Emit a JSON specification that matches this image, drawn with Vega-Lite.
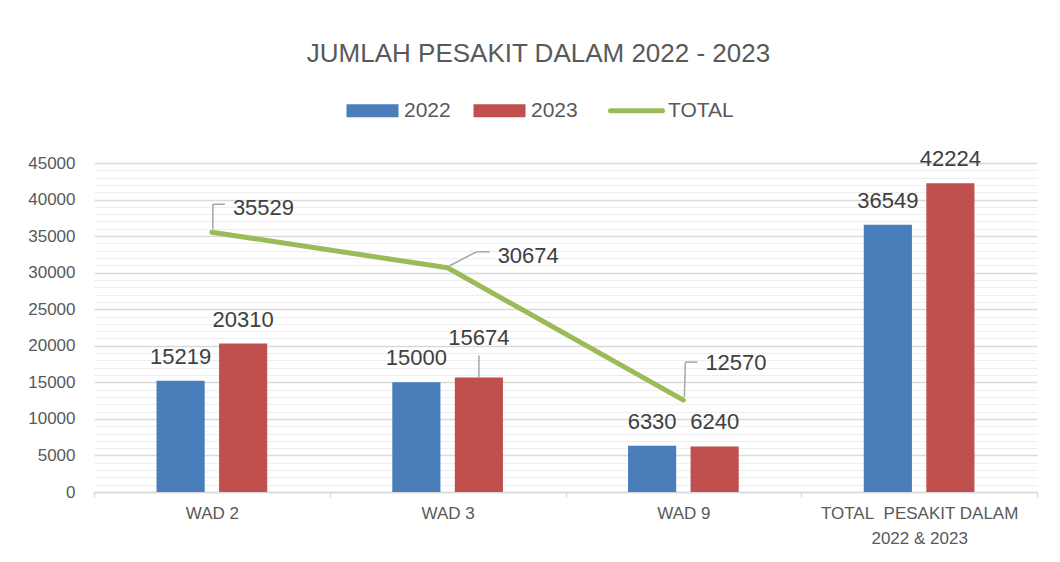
{
  "$schema": "https://vega.github.io/schema/vega-lite/v6.json",
  "autosize": "none",
  "padding": {"left": 94, "top": 163, "right": 23, "bottom": 70},
  "width": 943,
  "height": 329,
  "background": "white",
  "config": {
    "font": "Liberation Sans",
    "view": {"stroke": null}
  },
  "title": {
    "text": "JUMLAH PESAKIT DALAM 2022 - 2023",
    "fontSize": 26,
    "fontWeight": "normal",
    "color": "#595959",
    "anchor": "middle",
    "frame": "group",
    "dx": -27,
    "offset": 33
  },
  "datasets": {
    "bars": [
      {"cat": "WAD 2", "year": "2022", "value": 15219},
      {"cat": "WAD 2", "year": "2023", "value": 20310},
      {"cat": "WAD 3", "year": "2022", "value": 15000},
      {"cat": "WAD 3", "year": "2023", "value": 15674},
      {"cat": "WAD 9", "year": "2022", "value": 6330},
      {"cat": "WAD 9", "year": "2023", "value": 6240},
      {"cat": "TOTAL  PESAKIT DALAM 2022 & 2023", "year": "2022", "value": 36549},
      {"cat": "TOTAL  PESAKIT DALAM 2022 & 2023", "year": "2023", "value": 42224}
    ],
    "line": [
      {"cat": "WAD 2", "total": 35529},
      {"cat": "WAD 3", "total": 30674},
      {"cat": "WAD 9", "total": 12570}
    ]
  },
  "encoding": {
    "x": {
      "field": "cat",
      "type": "nominal",
      "scale": {
        "domain": ["WAD 2", "WAD 3", "WAD 9", "TOTAL  PESAKIT DALAM 2022 & 2023"],
        "paddingInner": 0,
        "paddingOuter": 0
      },
      "axis": {
        "title": null,
        "labelAngle": 0,
        "labelFontSize": 17,
        "labelColor": "#595959",
        "labelPadding": 8,
        "labelLineHeight": 25,
        "labelLimit": 400,
        "labelExpr": "datum.value === 'TOTAL  PESAKIT DALAM 2022 & 2023' ? ['TOTAL\u00a0 PESAKIT DALAM', '2022 & 2023'] : datum.label",
        "domainColor": "#D9D9D9",
        "domainWidth": 1.5,
        "tickColor": "#D9D9D9",
        "tickWidth": 1.5,
        "tickSize": 5,
        "tickBand": "extent",
        "grid": false
      }
    }
  },
  "layer": [
    {
      "data": {"name": "bars"},
      "mark": {"type": "bar"},
      "encoding": {
        "xOffset": {
          "field": "year",
          "type": "nominal",
          "scale": {"paddingInner": 0.23, "paddingOuter": 1.05}
        },
        "y": {
          "field": "value",
          "type": "quantitative",
          "scale": {"domain": [0, 45000], "nice": false},
          "axis": {
            "title": null,
            "values": [0,1000,2000,3000,4000,5000,6000,7000,8000,9000,10000,11000,12000,13000,14000,15000,16000,17000,18000,19000,20000,21000,22000,23000,24000,25000,26000,27000,28000,29000,30000,31000,32000,33000,34000,35000,36000,37000,38000,39000,40000,41000,42000,43000,44000,45000],
            "tickCount": 46,
            "format": "d",
            "labelExpr": "datum.value % 5000 === 0 ? datum.label : ''",
            "labelOverlap": false,
            "labelFontSize": 17,
            "labelColor": "#595959",
            "labelPadding": 19,
            "domain": false,
            "ticks": false,
            "grid": true,
            "gridColor": {"condition": {"test": "datum.value % 5000 === 0", "value": "#D9D9D9"}, "value": "#EEEEEE"},
            "gridWidth": {"condition": {"test": "datum.value % 5000 === 0", "value": 1.5}, "value": 1}
          }
        },
        "color": {
          "field": "year",
          "type": "nominal",
          "scale": {"domain": ["2022", "2023", "TOTAL"], "range": ["#4A7EBB", "#C0504D", "#9BBB59"]},
          "legend": {
            "title": null,
            "orient": "none",
            "legendX": 268,
            "legendY": -63,
            "direction": "horizontal",
            "symbolSize": 2704,
            "symbolStrokeWidth": 0,
            "labelFontSize": 21,
            "labelColor": "#595959",
            "labelOffset": 21,
            "columnPadding": 22,
            "padding": 0,
            "encode": {
              "symbols": {
                "update": {
                  "shape": {"signal": "datum.value === 'TOTAL' ? 'M-1,0H1' : 'M-1,-0.25H1V0.25H-1Z'"},
                  "fill": {"signal": "datum.value === 'TOTAL' ? 'transparent' : scale('color', datum.value)"},
                  "stroke": {"signal": "scale('color', datum.value)"},
                  "strokeWidth": {"signal": "datum.value === 'TOTAL' ? 5 : 0"},
                  "strokeCap": {"value": "round"},
                  "opacity": {"value": 1}
                }
              }
            }
          }
        }
      }
    },
    {
      "data": {"name": "bars"},
      "transform": [{"filter": "datum.cat !== 'WAD 3' || datum.year !== '2023'"}],
      "mark": {"type": "text", "fontSize": 22, "color": "#404040", "baseline": "alphabetic", "dy": -17},
      "encoding": {
        "xOffset": {"field": "year", "type": "nominal", "scale": {"paddingInner": 0.23, "paddingOuter": 1.05}},
        "y": {"field": "value", "type": "quantitative"},
        "text": {"field": "value", "type": "quantitative", "format": "d"}
      }
    },
    {
      "data": {"name": "bars"},
      "transform": [{"filter": "datum.cat === 'WAD 3' && datum.year === '2023'"}],
      "mark": {"type": "text", "fontSize": 22, "color": "#404040", "baseline": "alphabetic", "dy": -32},
      "encoding": {
        "xOffset": {"field": "year", "type": "nominal", "scale": {"paddingInner": 0.23, "paddingOuter": 1.05}},
        "y": {"field": "value", "type": "quantitative"},
        "text": {"field": "value", "type": "quantitative", "format": "d"}
      }
    },
    {
      "data": {"name": "bars"},
      "transform": [{"filter": "datum.cat === 'WAD 3' && datum.year === '2023'"}],
      "mark": {"type": "rule", "color": "#A6A6A6", "strokeWidth": 1.5, "y2Offset": -22},
      "encoding": {
        "xOffset": {"field": "year", "type": "nominal", "scale": {"paddingInner": 0.23, "paddingOuter": 1.05}},
        "y": {"field": "value", "type": "quantitative"},
        "y2": {"field": "value"}
      }
    },
    {
      "data": {"name": "line"},
      "mark": {"type": "line", "strokeWidth": 5, "strokeCap": "round", "strokeJoin": "round"},
      "encoding": {
        "y": {"field": "total", "type": "quantitative"},
        "color": {"datum": "TOTAL", "type": "nominal"}
      }
    },
    {
      "data": {"name": "line"},
      "transform": [{"filter": "datum.cat === 'WAD 2'"}],
      "mark": {"type": "text", "fontSize": 22, "color": "#404040", "align": "left", "baseline": "alphabetic", "dx": 21, "dy": -17},
      "encoding": {
        "y": {"field": "total", "type": "quantitative"},
        "text": {"field": "total", "type": "quantitative", "format": "d"}
      }
    },
    {
      "data": {"name": "line"},
      "transform": [{"filter": "datum.cat === 'WAD 3'"}],
      "mark": {"type": "text", "fontSize": 22, "color": "#404040", "align": "left", "baseline": "alphabetic", "dx": 50, "dy": -5},
      "encoding": {
        "y": {"field": "total", "type": "quantitative"},
        "text": {"field": "total", "type": "quantitative", "format": "d"}
      }
    },
    {
      "data": {"name": "line"},
      "transform": [{"filter": "datum.cat === 'WAD 9'"}],
      "mark": {"type": "text", "fontSize": 22, "color": "#404040", "align": "left", "baseline": "alphabetic", "dx": 22, "dy": -30},
      "encoding": {
        "y": {"field": "total", "type": "quantitative"},
        "text": {"field": "total", "type": "quantitative", "format": "d"}
      }
    },
    {
      "data": {"name": "line"},
      "transform": [{"filter": "datum.cat === 'WAD 2'"}],
      "mark": {"type": "rule", "color": "#A6A6A6", "strokeWidth": 1.5, "xOffset": 1, "x2Offset": 1, "yOffset": -3, "y2Offset": -28},
      "encoding": {
        "x2": {"field": "cat"},
        "y": {"field": "total", "type": "quantitative"},
        "y2": {"field": "total"}
      }
    },
    {
      "data": {"name": "line"},
      "transform": [{"filter": "datum.cat === 'WAD 2'"}],
      "mark": {"type": "rule", "color": "#A6A6A6", "strokeWidth": 1.5, "xOffset": 1, "x2Offset": 13, "yOffset": -28, "y2Offset": -28},
      "encoding": {
        "x2": {"field": "cat"},
        "y": {"field": "total", "type": "quantitative"},
        "y2": {"field": "total"}
      }
    },
    {
      "data": {"name": "line"},
      "transform": [{"filter": "datum.cat === 'WAD 3'"}],
      "mark": {"type": "rule", "color": "#A6A6A6", "strokeWidth": 1.5, "xOffset": 2, "x2Offset": 29, "yOffset": -2, "y2Offset": -16},
      "encoding": {
        "x2": {"field": "cat"},
        "y": {"field": "total", "type": "quantitative"},
        "y2": {"field": "total"}
      }
    },
    {
      "data": {"name": "line"},
      "transform": [{"filter": "datum.cat === 'WAD 3'"}],
      "mark": {"type": "rule", "color": "#A6A6A6", "strokeWidth": 1.5, "xOffset": 29, "x2Offset": 42, "yOffset": -16, "y2Offset": -16},
      "encoding": {
        "x2": {"field": "cat"},
        "y": {"field": "total", "type": "quantitative"},
        "y2": {"field": "total"}
      }
    },
    {
      "data": {"name": "line"},
      "transform": [{"filter": "datum.cat === 'WAD 9'"}],
      "mark": {"type": "rule", "color": "#A6A6A6", "strokeWidth": 1.5, "xOffset": 1, "x2Offset": 2, "yOffset": -3, "y2Offset": -38},
      "encoding": {
        "x2": {"field": "cat"},
        "y": {"field": "total", "type": "quantitative"},
        "y2": {"field": "total"}
      }
    },
    {
      "data": {"name": "line"},
      "transform": [{"filter": "datum.cat === 'WAD 9'"}],
      "mark": {"type": "rule", "color": "#A6A6A6", "strokeWidth": 1.5, "xOffset": 2, "x2Offset": 14, "yOffset": -38, "y2Offset": -38},
      "encoding": {
        "x2": {"field": "cat"},
        "y": {"field": "total", "type": "quantitative"},
        "y2": {"field": "total"}
      }
    }
  ]
}
